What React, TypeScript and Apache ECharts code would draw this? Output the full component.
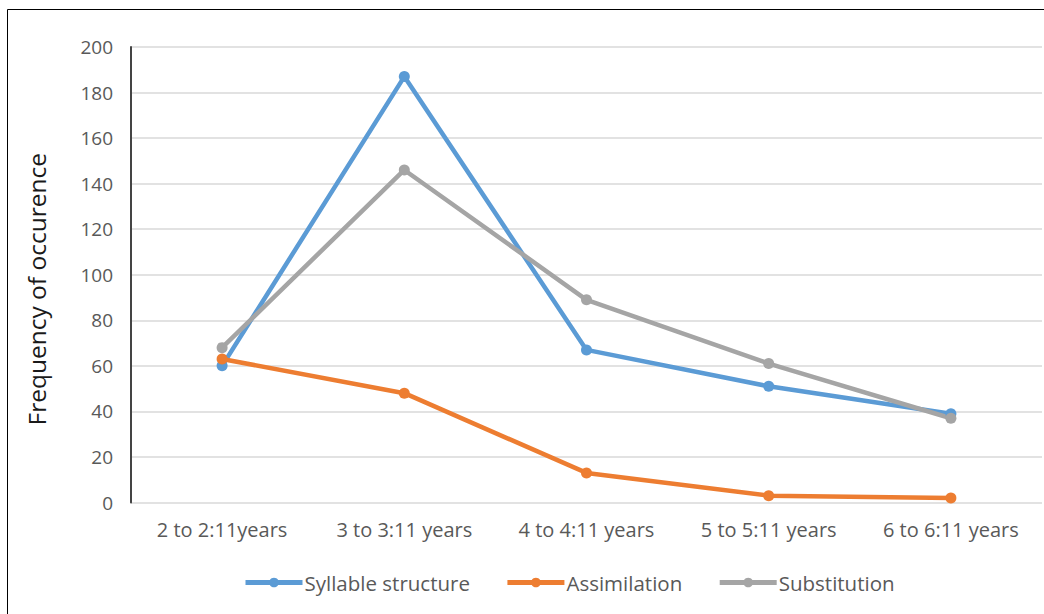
import React, { useEffect, useRef } from "react";
import * as echarts from "echarts";

const categories = ["2 to 2:11years", "3 to 3:11 years", "4 to 4:11 years", "5 to 5:11 years", "6 to 6:11 years"];
const syllableStructure = [60, 187, 67, 51, 39];
const assimilation = [63, 48, 13, 3, 2];
const substitution = [68, 146, 89, 61, 37];
const legendNames = ["Syllable structure", "Assimilation", "Substitution"];
const yAxisTitle = "Frequency of occurence";

const FONT = "'Open Sans', 'Noto Sans', sans-serif";

export default function App() {
  const ref = useRef<HTMLDivElement>(null);
  useEffect(() => {
    document.body.style.margin = "0";
    const chart = echarts.init(ref.current!, null, { renderer: "svg" });
    const mk = (name: string, data: number[], color: string) => ({
      name,
      type: "line",
      data,
      symbol: "circle",
      symbolSize: 11,
      lineStyle: { width: 4.5, color },
      itemStyle: { color },
      emphasis: { disabled: true },
    });
    chart.setOption({
      animation: false,
      backgroundColor: "#fff",
      textStyle: { fontFamily: FONT },
      color: ["#5B9BD5", "#ED7D31", "#A5A5A5"],
      grid: { left: 131, right: 2, top: 47, bottom: 111.5, containLabel: false },
      legend: {
        top: 572,
        left: 243,
        padding: 0,
        itemWidth: 57,
        itemHeight: 12,
        itemGap: 35,
        lineStyle: { width: 5 },
        textStyle: { fontFamily: FONT, fontSize: 20.5, color: "#595959", padding: [0, 0, 0, -3] },
        data: legendNames,
      },
      xAxis: {
        type: "category",
        data: categories,
        boundaryGap: true,
        axisLine: { show: false },
        axisTick: { show: false },
        axisLabel: { color: "#595959", fontSize: 20, margin: 17, fontFamily: FONT },
      },
      yAxis: {
        type: "value",
        min: 0,
        max: 200,
        interval: 20,
        name: yAxisTitle,
        nameLocation: "middle",
        nameGap: 82,
        nameRotate: 90,
        nameTextStyle: { fontSize: 24.5, color: "#1a1a1a", fontFamily: FONT, padding: [0, 0, 0, -29] },
        axisLine: { show: true, lineStyle: { color: "#444", width: 2 } },
        axisTick: { show: false },
        axisLabel: { color: "#595959", fontSize: 19, margin: 18, fontFamily: FONT },
        splitLine: { lineStyle: { color: "#D9D9D9", width: 1.5 } },
      },
      graphic: [
        {
          type: "rect",
          shape: { x: 7.5, y: 9.5, width: 1060, height: 620 },
          style: { fill: "none", stroke: "#000", lineWidth: 1 },
          silent: true,
        },
      ],
      series: [
        mk(legendNames[0], syllableStructure, "#5B9BD5"),
        mk(legendNames[1], assimilation, "#ED7D31"),
        mk(legendNames[2], substitution, "#A5A5A5"),
      ],
    });
    return () => chart.dispose();
  }, []);
  return <div ref={ref} style={{ width: 1044, height: 614 }} />;
}
